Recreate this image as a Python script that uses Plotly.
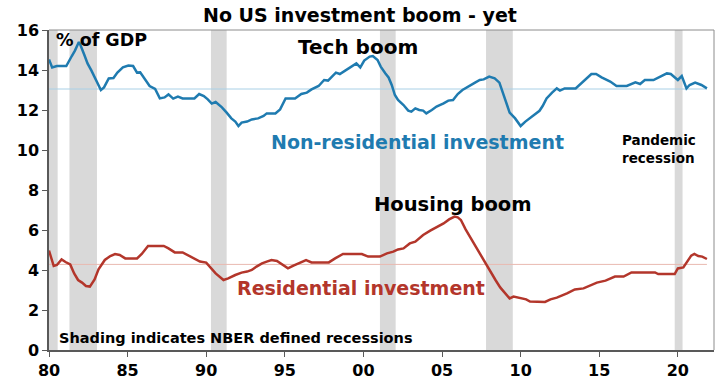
import plotly.graph_objects as go

# ---- data ----
nonres_years = [1980.0, 1980.2, 1980.5, 1981.1, 1981.45, 1981.65, 1981.9, 1982.0, 1982.25, 1982.45,
                1982.7, 1983.0, 1983.3, 1983.5, 1983.8, 1984.1, 1984.35, 1984.7, 1985.05, 1985.35,
                1985.6, 1985.8, 1986.1, 1986.4, 1986.75, 1987.05, 1987.35, 1987.6, 1987.9, 1988.2,
                1988.5, 1989.25, 1989.55, 1989.85, 1990.1, 1990.35, 1990.6, 1991.0, 1991.3, 1991.6,
                1991.85, 1992.05, 1992.25, 1992.6, 1992.9, 1993.3, 1993.65, 1993.85, 1994.4, 1994.7,
                1995.05, 1995.65, 1996.05, 1996.4, 1996.7, 1997.15, 1997.5, 1997.75, 1998.0, 1998.25,
                1998.5, 1998.85, 1999.25, 1999.55, 1999.8, 2000.05, 2000.4, 2000.6, 2000.9, 2001.1,
                2001.4, 2001.6, 2001.8, 2002.0, 2002.2, 2002.55, 2002.85, 2003.05, 2003.3, 2003.55,
                2003.8, 2004.0, 2004.35, 2004.65, 2005.1, 2005.4, 2005.7, 2006.0, 2006.3, 2006.7,
                2007.1, 2007.4, 2007.65, 2008.0, 2008.35, 2008.65, 2008.85, 2009.1, 2009.3, 2009.65,
                2010.0, 2010.3, 2010.55, 2010.9, 2011.2, 2011.4, 2011.65, 2012.0, 2012.3, 2012.5,
                2012.8, 2013.5, 2013.8, 2014.1, 2014.5, 2014.8, 2015.15, 2015.7, 2016.1, 2016.75,
                2017.3, 2017.6, 2017.9, 2018.45, 2018.9, 2019.3, 2019.55, 2019.85, 2020.0, 2020.25,
                2020.55, 2020.75, 2021.1, 2021.5, 2021.85]
nonres_values = [14.53, 14.13, 14.2, 14.2, 14.7, 14.97, 15.4, 15.25, 14.75, 14.33,
                 13.97, 13.5, 13.0, 13.13, 13.58, 13.6, 13.87, 14.13, 14.22, 14.2,
                 13.87, 13.88, 13.53, 13.2, 13.05, 12.58, 12.63, 12.78, 12.57, 12.67,
                 12.58, 12.58, 12.8, 12.7, 12.53, 12.32, 12.4, 12.13, 11.87, 11.58,
                 11.42, 11.2, 11.37, 11.42, 11.53, 11.58, 11.7, 11.83, 11.83, 12.03,
                 12.58, 12.58, 12.8, 12.87, 13.03, 13.2, 13.5, 13.47, 13.67, 13.87,
                 13.8, 13.97, 14.17, 14.33, 14.13, 14.47, 14.67, 14.7, 14.5, 14.17,
                 13.83, 13.63, 13.25, 12.75, 12.5, 12.25, 11.97, 11.92, 12.08, 12.0,
                 11.97, 11.83, 12.0, 12.17, 12.33, 12.47, 12.5, 12.8, 13.0, 13.2,
                 13.37, 13.5, 13.53, 13.67, 13.58, 13.37, 12.92, 12.25, 11.87, 11.58,
                 11.2, 11.42, 11.58, 11.78, 11.96, 12.2, 12.58, 12.87, 13.08, 12.97,
                 13.08, 13.08, 13.3, 13.5, 13.8, 13.8, 13.63, 13.42, 13.2, 13.2,
                 13.38, 13.3, 13.5, 13.5, 13.67, 13.83, 13.8, 13.58, 13.5, 13.7,
                 13.08, 13.25, 13.37, 13.25, 13.08]

res_years = [1980.0, 1980.3, 1980.5, 1980.8, 1981.05, 1981.35, 1981.6, 1981.85, 1982.1, 1982.35,
             1982.6, 1982.9, 1983.15, 1983.55, 1983.9, 1984.2, 1984.5, 1984.85, 1985.6, 1985.9,
             1986.3, 1987.3, 1987.6, 1988.0, 1988.5, 1989.1, 1989.6, 1990.0, 1990.35, 1990.6,
             1991.1, 1991.4, 1991.85, 1992.25, 1992.6, 1992.9, 1993.2, 1993.55, 1993.85, 1994.15,
             1994.5, 1994.9, 1995.2, 1995.55, 1995.95, 1996.35, 1996.7, 1997.8, 1998.2, 1998.7,
             1999.9, 2000.3, 2001.05, 2001.5, 2001.9, 2002.2, 2002.55, 2002.95, 2003.3, 2003.8,
             2004.25, 2004.65, 2005.1, 2005.45, 2005.8, 2006.0, 2006.2, 2006.5, 2006.8, 2007.1,
             2007.4, 2007.75, 2008.05, 2008.4, 2008.7, 2009.0, 2009.3, 2009.55, 2009.85, 2010.15,
             2010.35, 2010.6, 2011.55, 2011.9, 2012.3, 2012.95, 2013.45, 2014.0, 2014.4, 2014.85,
             2015.4, 2016.0, 2016.55, 2017.05, 2018.55, 2018.75, 2019.8, 2020.0, 2020.35, 2020.55,
             2020.85, 2021.05, 2021.3, 2021.55, 2021.85]
res_values = [4.97, 4.2, 4.25, 4.53, 4.4, 4.28, 3.83, 3.5, 3.37, 3.2,
              3.17, 3.53, 4.03, 4.5, 4.7, 4.8, 4.75, 4.58, 4.58, 4.8,
              5.2, 5.2, 5.08, 4.88, 4.88, 4.63, 4.42, 4.37, 4.08, 3.83,
              3.5, 3.58, 3.75, 3.87, 3.92, 4.0, 4.17, 4.33, 4.42, 4.5,
              4.45, 4.25, 4.08, 4.22, 4.37, 4.5, 4.38, 4.38, 4.58, 4.8,
              4.8, 4.67, 4.67, 4.83, 4.92, 5.03, 5.08, 5.33, 5.42, 5.75,
              5.97, 6.13, 6.33, 6.53, 6.67, 6.63, 6.5, 6.03, 5.63, 5.25,
              4.83, 4.33, 3.92, 3.5, 3.13, 2.83, 2.58, 2.67, 2.63, 2.58,
              2.53, 2.42, 2.4, 2.53, 2.62, 2.83, 3.03, 3.08, 3.2, 3.37,
              3.47, 3.67, 3.67, 3.88, 3.88, 3.8, 3.8, 4.08, 4.13, 4.37,
              4.72, 4.8, 4.7, 4.67, 4.55]

nonres_average = 13.05
res_average = 4.28

recessions = [(1980.0, 1980.55), (1981.3, 1983.05), (1990.3, 1991.3),
              (2001.05, 2002.05), (2007.8, 2009.5), (2019.8, 2020.3)]

tick_years = [1980, 1985, 1990, 1995, 2000, 2005, 2010, 2015, 2020]
tick_labels = ["80", "85", "90", "95", "00", "05", "10", "15", "20"]
y_ticks = [0, 2, 4, 6, 8, 10, 12, 14, 16]

BLUE = "#1f7bb0"
RED = "#b3362b"
FONT = "DejaVu Sans"

fig = go.Figure()

# average lines
fig.add_trace(go.Scatter(x=[nonres_years[0], nonres_years[-1]], y=[nonres_average] * 2, mode="lines",
                         line=dict(color="#a9d0e6", width=1), hoverinfo="skip"))
fig.add_trace(go.Scatter(x=[res_years[0], res_years[-1]], y=[res_average] * 2, mode="lines",
                         line=dict(color="#e9b9b0", width=1), hoverinfo="skip"))

fig.add_trace(go.Scatter(x=nonres_years, y=nonres_values, mode="lines",
                         line=dict(color=BLUE, width=2.5), name="Non-residential investment"))
fig.add_trace(go.Scatter(x=res_years, y=res_values, mode="lines",
                         line=dict(color=RED, width=2.5), name="Residential investment"))

shapes = []
for x0, x1 in recessions:
    shapes.append(dict(type="rect", xref="x", yref="paper", x0=x0, x1=x1, y0=0, y1=1,
                       fillcolor="#d9d9d9", line=dict(width=0), layer="below"))
# top/right frame
shapes.append(dict(type="line", xref="paper", yref="paper", x0=0, x1=1, y0=1, y1=1,
                   line=dict(color="#8c8c8c", width=1)))
shapes.append(dict(type="line", xref="paper", yref="paper", x0=1, x1=1, y0=0, y1=1,
                   line=dict(color="#8c8c8c", width=1)))

def ann(text, x, y, size, color="black", xanchor="left"):
    return dict(text=text, x=x, y=y, xref="x", yref="y", xanchor=xanchor, yanchor="middle",
                showarrow=False, font=dict(family=FONT, size=size, color=color), align="left")

annotations = [
    ann("<b>% of GDP</b>", 1980.3, 15.5, 17.5),
    ann("<b>Tech boom</b>", 1995.7, 15.15, 20),
    ann("<b>Non-residential investment</b>", 1994.0, 10.4, 19, BLUE),
    ann("<b>Pandemic<br>recession</b>", 2016.3, 10.03, 13.5),
    ann("<b>Housing boom</b>", 2000.55, 7.3, 19.5),
    ann("<b>Residential investment</b>", 1991.85, 3.1, 19, RED),
    ann("<b>Shading indicates NBER defined recessions</b>", 1980.5, 0.6, 14.5),
]

fig.update_layout(
    width=720, height=388,
    margin=dict(l=49, r=6, t=30, b=38),
    paper_bgcolor="white", plot_bgcolor="white",
    showlegend=False,
    title=dict(text="<b>No US investment boom - yet</b>", x=0.5, xanchor="center",
               y=1 - 15 / 388, yanchor="middle",
               font=dict(family=FONT, size=19, color="black")),
    shapes=shapes,
    annotations=annotations,
    xaxis=dict(range=[1980, 2022.3], tickvals=tick_years, ticktext=tick_labels,
               showgrid=False, zeroline=False, showline=True, linecolor="#595959", linewidth=1.5,
               ticks="outside", ticklen=5, tickcolor="#595959",
               tickfont=dict(family=FONT, size=16, color="black", weight="bold")),
    yaxis=dict(range=[0, 16], tickvals=y_ticks,
               showgrid=False, zeroline=False, showline=True, linecolor="#595959", linewidth=1.5,
               ticks="outside", ticklen=5, tickcolor="#595959",
               tickfont=dict(family=FONT, size=16, color="black", weight="bold")),
)

fig.write_html("out.html", config={"displayModeBar": False},
               post_script="document.body.style.margin='0';document.body.style.overflow='hidden';")
